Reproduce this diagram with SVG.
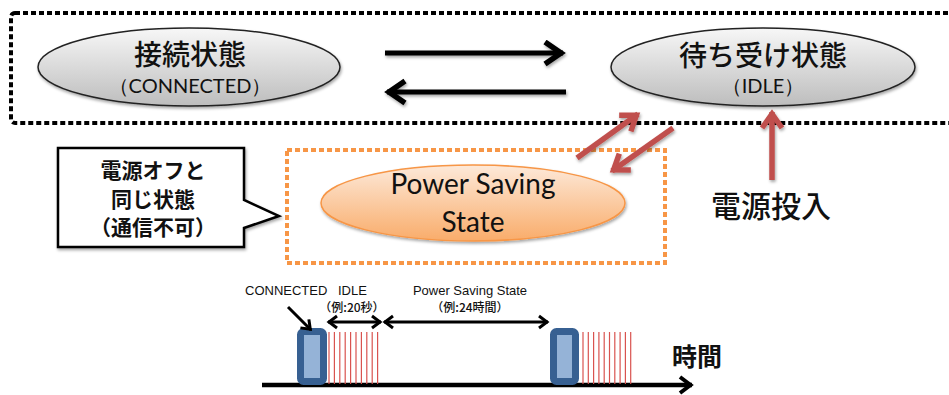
<svg xmlns="http://www.w3.org/2000/svg" width="949" height="395" viewBox="0 0 949 395">
<style>
.jp{font-family:"Noto Sans CJK JP","Noto Sans",sans-serif;fill:#111;text-anchor:middle}
.lat{font-family:Lato,"Open Sans",sans-serif;fill:#111;text-anchor:middle}
.ar{font-family:"Liberation Sans",Arial,sans-serif;fill:#111}
.blk{stroke:#000;fill:none}
.red{stroke:#c0504d;stroke-width:5.5;fill:none}
.tick{stroke:#d9534f;stroke-width:1.2}
.blue{fill:#95b3d7;stroke:#376092;stroke-width:7}
</style>
<defs>
<linearGradient id="gGray" x1="0" y1="0" x2="0" y2="1">
<stop offset="0" stop-color="#f7f7f7"/><stop offset="1" stop-color="#bdbdbd"/>
</linearGradient>
<linearGradient id="gOrange" x1="0" y1="0" x2="0" y2="1">
<stop offset="0" stop-color="#fde9d9"/><stop offset="1" stop-color="#f9ac6a"/>
</linearGradient>
<filter id="sh" x="-10%" y="-10%" width="120%" height="130%">
<feDropShadow dx="1" dy="2" stdDeviation="1.5" flood-color="#000" flood-opacity="0.35"/>
</filter>
<marker id="hBig" markerUnits="userSpaceOnUse" viewBox="-25 -15 30 30" markerWidth="30" markerHeight="30" refX="0" refY="0" orient="auto" overflow="visible">
<path d="M-18,-11 L-2,0 L-18,11" fill="none" stroke="#000" stroke-width="5.5"/>
</marker>
<marker id="hRed" markerUnits="userSpaceOnUse" viewBox="-25 -15 30 30" markerWidth="30" markerHeight="30" refX="0" refY="0" orient="auto" overflow="visible">
<path d="M-16,-10 L-2,0 L-16,10" fill="none" stroke="#c0504d" stroke-width="5.5"/>
</marker>
<marker id="hMid" markerUnits="userSpaceOnUse" viewBox="-15 -10 20 20" markerWidth="20" markerHeight="20" refX="0" refY="0" orient="auto" overflow="visible">
<path d="M-12,-8 L-1.5,0 L-12,8" fill="none" stroke="#000" stroke-width="4"/>
</marker>
<marker id="hSm" markerUnits="userSpaceOnUse" viewBox="-12 -8 16 16" markerWidth="16" markerHeight="16" refX="0" refY="0" orient="auto-start-reverse" overflow="visible">
<path d="M-9,-6 L-1,0 L-9,6" fill="none" stroke="#000" stroke-width="3"/>
</marker>
</defs>

<g id="outer-box">
<rect x="11" y="13" width="960" height="110" rx="4" fill="none" stroke="#000" stroke-width="4" stroke-dasharray="5 3"/>
</g>
<g id="ps-box">
<rect x="287" y="150" width="378" height="113" fill="none" stroke="#f79646" stroke-width="4" stroke-dasharray="5 3"/>
</g>

<g id="connected">
<ellipse cx="189" cy="67" rx="151" ry="39" fill="url(#gGray)" stroke="#222" stroke-width="1.5" filter="url(#sh)"/>
<text class="jp" x="190" y="65" font-size="28" font-weight="500">接続状態</text>
<text class="lat" x="190" y="93" font-size="20">（CONNECTED）</text>
</g>

<g id="idle">
<ellipse cx="763" cy="67" rx="152" ry="39" fill="url(#gGray)" stroke="#222" stroke-width="1.5" filter="url(#sh)"/>
<text class="jp" x="763" y="66" font-size="28" font-weight="500">待ち受け状態</text>
<text class="lat" x="763" y="93" font-size="20">（IDLE）</text>
</g>

<g id="power-saving">
<ellipse cx="473" cy="203" rx="152" ry="38" fill="url(#gOrange)" stroke="#f79646" stroke-width="1.5" filter="url(#sh)"/>
<text class="lat" x="473" y="194" font-size="28">Power Saving</text>
<text class="lat" x="473" y="232" font-size="28">State</text>
</g>

<g id="callout">
<path d="M58,148 H244 V200 L279,216 L244,228 V247 H58 Z" fill="#fff" stroke="#000" stroke-width="2.5" filter="url(#sh)"/>
<text class="jp" x="153" y="178" font-size="21" font-weight="bold">電源オフと</text>
<text class="jp" x="153" y="207" font-size="21" font-weight="bold">同じ状態</text>
<text class="jp" x="153" y="235" font-size="21" font-weight="bold">（通信不可）</text>
</g>

<g id="power-on-label">
<text class="jp" x="771" y="217" font-size="30" font-weight="500">電源投入</text>
</g>

<g id="connectors" filter="url(#sh)">
<line class="blk" x1="385" y1="53" x2="563" y2="53" stroke-width="5" marker-end="url(#hBig)"/>
<line class="blk" x1="566" y1="92" x2="387" y2="92" stroke-width="5" marker-end="url(#hBig)"/>
<line class="red" x1="577" y1="158" x2="638" y2="114" marker-end="url(#hRed)"/>
<line class="red" x1="673" y1="128" x2="612" y2="171" marker-end="url(#hRed)"/>
<line class="red" x1="772" y1="180" x2="772" y2="112" marker-end="url(#hRed)"/>
</g>

<g id="timeline">
<line class="blk" x1="262" y1="385" x2="692" y2="385" stroke-width="4.5" marker-end="url(#hMid)"/>
<g id="block1">
<rect class="blue" x="300.5" y="331.5" width="23" height="50" rx="3"/>
<line class="tick" x1="329" y1="332" x2="329" y2="384"/>
<line class="tick" x1="334.4" y1="332" x2="334.4" y2="384"/>
<line class="tick" x1="339.8" y1="332" x2="339.8" y2="384"/>
<line class="tick" x1="345.2" y1="332" x2="345.2" y2="384"/>
<line class="tick" x1="350.6" y1="332" x2="350.6" y2="384"/>
<line class="tick" x1="356" y1="332" x2="356" y2="384"/>
<line class="tick" x1="361.4" y1="332" x2="361.4" y2="384"/>
<line class="tick" x1="366.8" y1="332" x2="366.8" y2="384"/>
<line class="tick" x1="372.2" y1="332" x2="372.2" y2="384"/>
<line class="tick" x1="377.6" y1="332" x2="377.6" y2="384"/>
</g>
<g id="block2">
<rect class="blue" x="553.5" y="331.5" width="22" height="50" rx="3"/>
<line class="tick" x1="583" y1="332" x2="583" y2="384"/>
<line class="tick" x1="588.3" y1="332" x2="588.3" y2="384"/>
<line class="tick" x1="593.6" y1="332" x2="593.6" y2="384"/>
<line class="tick" x1="598.9" y1="332" x2="598.9" y2="384"/>
<line class="tick" x1="604.2" y1="332" x2="604.2" y2="384"/>
<line class="tick" x1="609.5" y1="332" x2="609.5" y2="384"/>
<line class="tick" x1="614.8" y1="332" x2="614.8" y2="384"/>
<line class="tick" x1="620.1" y1="332" x2="620.1" y2="384"/>
<line class="tick" x1="625.4" y1="332" x2="625.4" y2="384"/>
<line class="tick" x1="630.7" y1="332" x2="630.7" y2="384"/>
</g>
<line class="blk" x1="288" y1="307" x2="311" y2="330" stroke-width="3" marker-end="url(#hSm)"/>
<line class="blk" x1="328" y1="322" x2="381" y2="322" stroke-width="3" marker-start="url(#hSm)" marker-end="url(#hSm)"/>
<line class="blk" x1="384" y1="322" x2="548" y2="322" stroke-width="3" marker-start="url(#hSm)" marker-end="url(#hSm)"/>
<text class="ar" x="245" y="295" font-size="13">CONNECTED</text>
<text class="ar" x="338" y="295" font-size="13">IDLE</text>
<text class="ar" x="470" y="295" font-size="13" text-anchor="middle">Power Saving State</text>
<text class="jp" x="352" y="312" font-size="12" font-weight="500">（例:20秒）</text>
<text class="jp" x="470" y="312" font-size="12" font-weight="500">（例:24時間）</text>
<text class="jp" x="697" y="366" font-size="25" font-weight="bold">時間</text>
</g>
</svg>
